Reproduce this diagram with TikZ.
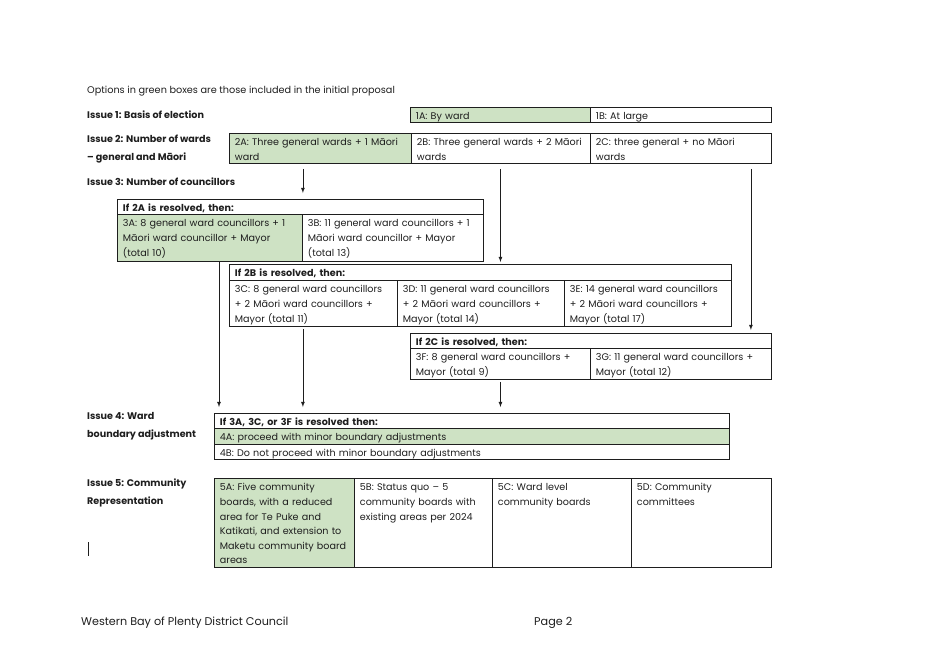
\documentclass[tikz,border=0pt]{standalone}
\usepackage{fontspec}
\setmainfont{Poppins}
\usetikzlibrary{positioning}
\definecolor{propgreen}{RGB}{206,226,196}
\definecolor{ink}{RGB}{30,30,30}

\begin{document}
\begin{tikzpicture}[x=1pt, y=-1pt, opt/.style={draw=ink, line width=0.9pt, anchor=north west, align=left, inner xsep=5.5pt, inner ysep=0pt, text height=12.5pt, text=ink, font=\fontsize{9.6}{14.6}\selectfont}, pick/.style={opt, fill=propgreen}, head/.style={opt, font=\fontsize{9.6}{14.6}\selectfont\bfseries}, issue/.style={anchor=north west, align=left, inner sep=0pt, text=ink, font=\fontsize{9.6}{17.5}\selectfont\bfseries}, n/.style={-latex, line width=0.75pt, draw=ink}]
                \useasboundingbox (0,0) rectangle (946,669);
                % text
                \node[anchor=west, inner sep=0pt, text=ink, font=\fontsize{9.7}{14.6}\selectfont] (note) at (87,91) {Options in green boxes are those included in the initial proposal};
                \node[issue] (i1) at (87,110.5) {Issue 1: Basis of election};
                \node[issue] (i2) at (87,135) {Issue 2: Number of wards\\ – general and Māori};
                \node[issue] (i3) at (87,177.5) {Issue 3: Number of councillors};
                \node[issue] (i4) at (87,412.5) {Issue 4: Ward\\boundary adjustment};
                \node[issue] (i5) at (87,479) {Issue 5: Community\\Representation};
                % issue 1 and 2
                \node[pick, text width=169pt, text depth=2.5pt] (1A) at (410,107) {1A: By ward};
                \node[opt, text width=170pt, text depth=2.5pt] (1B) at (590,107) {1B: At large};
                \node[pick, text width=171pt, text depth=17.5pt] (2A) at (229,133) {2A: Three general wards + 1 Māori\\ward};
                \node[opt, text width=168pt, text depth=17.5pt] (2B) at (411,133) {2B: Three general wards + 2 Māori\\wards};
                \node[opt, text width=170pt, text depth=17.5pt] (2C) at (590,133) {2C: three general + no Māori\\wards};
                % issue 3
                \node[head, text width=355pt, text depth=2.5pt] (h2A) at (117,199) {If 2A is resolved, then:};
                \node[pick, text width=174pt, text depth=34.5pt] (3A) at (117,214) {3A: 8 general ward councillors + 1\\Māori ward councillor + Mayor\\(total 10)};
                \node[opt, text width=170pt, text depth=34.5pt] (3B) at (302,214) {3B: 11 general ward councillors + 1\\Māori ward councillor + Mayor\\(total 13)};
                \node[head, text width=491pt, text depth=3.5pt] (h2B) at (229,264) {If 2B is resolved, then:};
                \node[opt, text width=157pt, text depth=33.5pt] (3C) at (229,280) {3C: 8 general ward councillors\\+ 2 Māori ward councillors +\\Mayor (total 11)};
                \node[opt, text width=156pt, text depth=33.5pt] (3D) at (397,280) {3D: 11 general ward councillors\\+ 2 Māori ward councillors +\\Mayor (total 14)};
                \node[opt, text width=156pt, text depth=33.5pt] (3E) at (564,280) {3E: 14 general ward councillors\\+ 2 Māori ward councillors +\\Mayor (total 17)};
                \node[head, text width=350pt, text depth=2.5pt] (h2C) at (410,333) {If 2C is resolved, then:};
                \node[opt, text width=169pt, text depth=18.5pt] (3F) at (410,348) {3F: 8 general ward councillors +\\Mayor (total 9)};
                \node[opt, text width=170pt, text depth=18.5pt] (3G) at (590,348) {3G: 11 general ward councillors +\\Mayor (total 12)};
                % issue 4
                \node[head, text width=504pt, text depth=2.5pt] (h4) at (214,413) {If 3A, 3C, or 3F is resolved then:};
                \node[pick, text width=504pt, text depth=3.5pt] (4A) at (214,428) {4A: proceed with minor boundary adjustments};
                \node[opt, text width=504pt, text depth=2.5pt] (4B) at (214,444) {4B: Do not proceed with minor boundary adjustments};
                % issue 5
                \node[pick, text width=129pt, text depth=76.5pt] (5A) at (214,478) {5A: Five community\\boards, with a reduced\\area for Te Puke and\\Katikati, and extension to\\Maketu community board\\areas};
                \node[opt, text width=127pt, text depth=76.5pt] (5B) at (354,478) {5B: Status quo – 5\\community boards with\\existing areas per 2024};
                \node[opt, text width=128pt, text depth=76.5pt] (5C) at (492,478) {5C: Ward level\\community boards};
                \node[opt, text width=129pt, text depth=76.5pt] (5D) at (631,478) {5D: Community\\committees};
                % footer
                \node[anchor=west, inner sep=0pt, text=ink, font=\fontsize{11.2}{13}\selectfont] (foot) at (81,622.5) {Western Bay of Plenty District Council};
                \node[anchor=west, inner sep=0pt, text=ink, font=\fontsize{11.2}{13}\selectfont] (page) at (534,622.5) {Page 2};
                \draw[ink, line width=0.8pt] (88,542) -- (88,556);
                % edges
                \draw[n, shorten <=5pt, shorten >=6pt] (2A.south -| 3A.east) -- (h2A.north -| 3A.east);
                \draw[n, shorten <=5pt, shorten >=2pt] (2B.south -| 3F.south) -- (h2B.north -| 3F.south);
                \draw[n, shorten <=5pt, shorten >=3pt] ([xshift=-21pt]2C.south east) -- ([xshift=-21pt]2C.south east |- h2C.north);
                \draw[n, shorten >=6pt] ([xshift=102pt]3A.south west) -- ([xshift=102pt]3A.south west |- h4.north);
                \draw[n, shorten <=2pt, shorten >=6pt] (3C.south -| 3A.east) -- (h4.north -| 3A.east);
                \draw[n, shorten <=2pt, shorten >=6pt] (3F.south) -- (h4.north -| 3F.south);
\end{tikzpicture}
\end{document}
